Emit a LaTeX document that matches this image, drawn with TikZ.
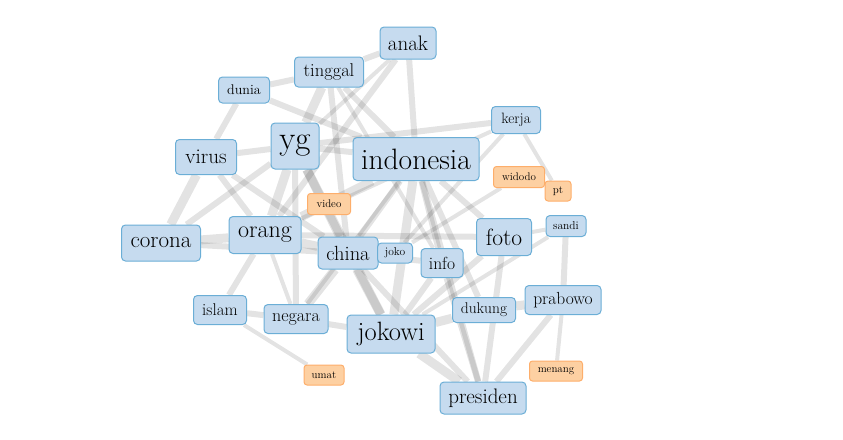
\documentclass[tikz,border=0pt]{standalone}
\definecolor{WordBlue}{RGB}{198, 219, 239}
\definecolor{EdgeBlue}{RGB}{107, 174, 214}
\definecolor{WordOrange}{RGB}{253, 208, 162}
\definecolor{EdgeOrange}{RGB}{253, 174, 107}
\usepackage{tikz}
\usetikzlibrary{positioning}
\pgfdeclarelayer{background}
\pgfsetlayers{background,main}

\begin{document}
\begin{tikzpicture}[x=1pt, y=-1pt,
        word/.style={draw=EdgeBlue, fill=WordBlue, line width=1pt, rounded corners=4pt, inner sep=0pt},
        minor/.style={draw=EdgeOrange, fill=WordOrange, line width=1pt, rounded corners=3pt, inner sep=0pt,
            minimum height=21pt, font=\fontsize{11}{12}\selectfont},
        link/.style={draw=black, opacity=0.11, line width=#1}]
        \useasboundingbox (0,0) rectangle (843,439);

        % Word nodes
        \node[word, minimum width=56pt, minimum height=32pt, font=\fontsize{21}{22}\selectfont] (anak) at (408,43) {anak};
        \node[word, minimum width=69pt, minimum height=30pt, font=\fontsize{18.5}{19}\selectfont] (tinggal) at (329,72) {tinggal};
        \node[word, minimum width=51pt, minimum height=26pt, font=\fontsize{14}{15}\selectfont] (dunia) at (244,90) {dunia};
        \node[word, minimum width=48pt, minimum height=46pt, font=\fontsize{33}{34}\selectfont] (yg) at (295,146) {yg};
        \node[word, minimum width=126pt, minimum height=43pt, font=\fontsize{29.5}{30}\selectfont] (indonesia) at (416,159) {indonesia};
        \node[word, minimum width=49pt, minimum height=27pt, font=\fontsize{15}{16}\selectfont] (kerja) at (516,120) {kerja};
        \node[word, minimum width=61pt, minimum height=35pt, font=\fontsize{21}{22}\selectfont] (virus) at (206,157) {virus};
        \node[word, minimum width=79pt, minimum height=36pt, font=\fontsize{23}{24}\selectfont] (corona) at (161,243) {corona};
        \node[word, minimum width=72pt, minimum height=37pt, font=\fontsize{24}{25}\selectfont] (orang) at (265,235) {orang};
        \node[word, minimum width=60pt, minimum height=32pt, font=\fontsize{20.5}{21}\selectfont] (china) at (348,253) {china};
        \node[word, minimum width=35pt, minimum height=20pt, font=\fontsize{11.5}{12}\selectfont] (joko) at (395,253) {joko};
        \node[word, minimum width=42pt, minimum height=29pt, font=\fontsize{17.5}{18}\selectfont] (info) at (442,263) {info};
        \node[word, minimum width=55pt, minimum height=37pt, font=\fontsize{23.5}{24}\selectfont] (foto) at (504,237) {foto};
        \node[word, minimum width=40pt, minimum height=21pt, font=\fontsize{11.5}{12}\selectfont] (sandi) at (566,226) {sandi};
        \node[word, minimum width=53pt, minimum height=29pt, font=\fontsize{17}{18}\selectfont] (islam) at (220,310) {islam};
        \node[word, minimum width=64pt, minimum height=29pt, font=\fontsize{18}{19}\selectfont] (negara) at (296,319) {negara};
        \node[word, minimum width=88pt, minimum height=38pt, font=\fontsize{26.5}{27}\selectfont] (jokowi) at (391,334) {jokowi};
        \node[word, minimum width=63pt, minimum height=25pt, font=\fontsize{15.5}{16}\selectfont] (dukung) at (484,310) {dukung};
        \node[word, minimum width=76pt, minimum height=29pt, font=\fontsize{17.5}{18}\selectfont] (prabowo) at (563,300) {prabowo};
        \node[word, minimum width=86pt, minimum height=32pt, font=\fontsize{21}{22}\selectfont] (presiden) at (483,398) {presiden};

        % Minor words
        \node[minor, minimum width=51pt] (widodo) at (519,177) {widodo};
        \node[minor, minimum width=26pt, minimum height=20pt] (pt) at (558,191) {pt};
        \node[minor, minimum width=43pt] (video) at (329,204) {video};
        \node[minor, minimum width=40pt, minimum height=20pt] (umat) at (324,375) {umat};
        \node[minor, minimum width=53pt, minimum height=20pt] (menang) at (556,371) {menang};

        % Co-occurrence links, heavy to light
        \begin{pgfonlayer}{background}
            \foreach \a/\b in {tinggal/yg, yg/orang, yg/china, yg/jokowi, corona/orang, corona/virus,
                    orang/china, china/negara, china/jokowi, indonesia/jokowi, jokowi/dukung,
                    dukung/prabowo, jokowi/presiden, indonesia/orang}
                \draw[link=9pt] (\a) -- (\b);
            \foreach \a/\b in {anak/tinggal, anak/indonesia, anak/orang, tinggal/dunia, tinggal/indonesia,
                    tinggal/china, dunia/indonesia, virus/yg, virus/orang, virus/china, yg/corona,
                    yg/indonesia, yg/negara, yg/kerja, indonesia/china, indonesia/info, indonesia/foto,
                    indonesia/presiden, indonesia/dukung, orang/islam, orang/foto, corona/china,
                    china/presiden, china/info, info/jokowi, info/presiden, foto/jokowi, foto/presiden,
                    sandi/prabowo, prabowo/presiden, jokowi/negara, islam/negara, dunia/virus}
                \draw[link=6pt] (\a) -- (\b);
            \foreach \a/\b in {anak/yg, kerja/pt, kerja/orang, kerja/joko, joko/widodo, foto/sandi,
                    sandi/jokowi, prabowo/menang, islam/umat, orang/negara, indonesia/negara, tinggal/info}
                \draw[link=4pt] (\a) -- (\b);
        \end{pgfonlayer}
    \end{tikzpicture}
\end{document}
